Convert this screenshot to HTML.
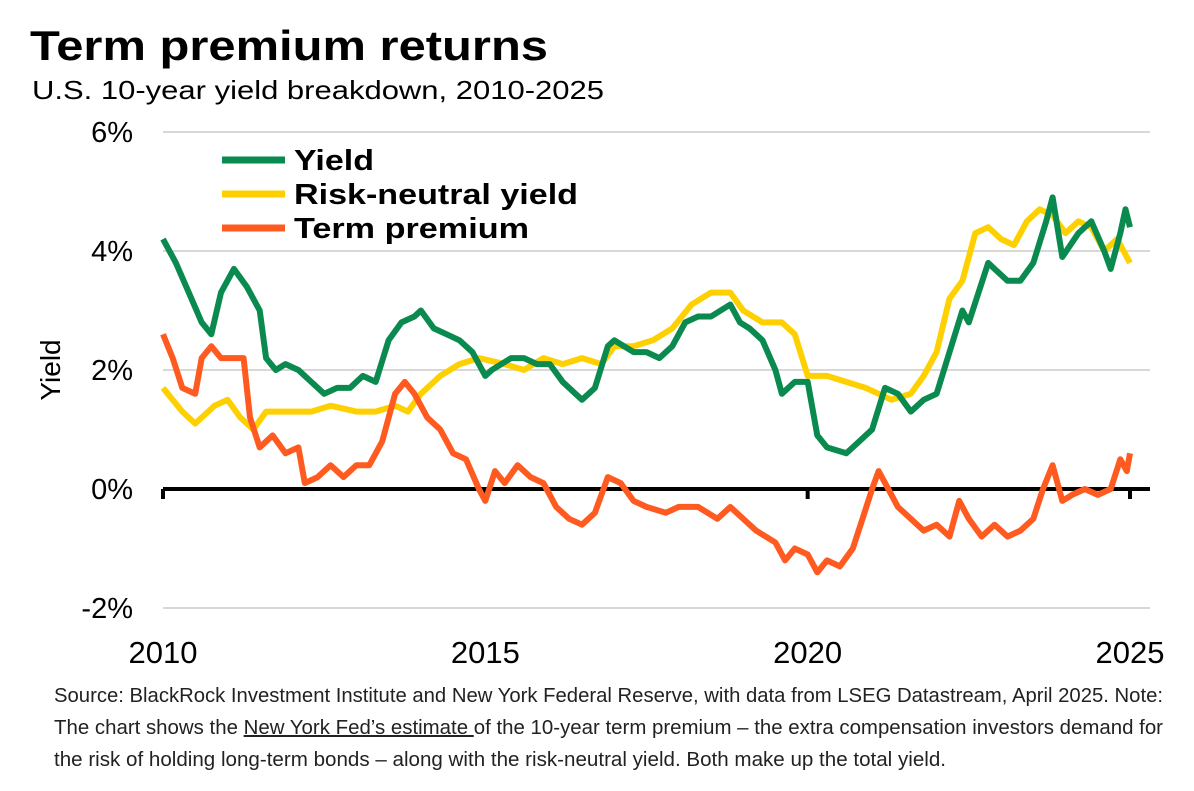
<!DOCTYPE html>
<html><head><meta charset="utf-8"><style>
body{margin:0;background:#fff;width:1194px;height:791px;overflow:hidden;font-family:"Liberation Sans",sans-serif;}
svg{position:absolute;left:0;top:0}
</style></head><body>
<svg width="1194" height="791">
<text x="30" y="60" font-size="42" font-weight="bold" fill="#000" textLength="518" lengthAdjust="spacingAndGlyphs">Term premium returns</text>
<text x="32" y="99" font-size="26" fill="#000" textLength="572" lengthAdjust="spacingAndGlyphs">U.S. 10-year yield breakdown, 2010-2025</text>
<g id="grid"></g>
<g id="ylabels"></g>
<g id="xlabels"></g>
<text transform="translate(60,370) rotate(-90)" text-anchor="middle" font-size="28" fill="#000">Yield</text>
<g id="series"></g>
<g font-size="29" font-weight="bold">
<line x1="222" y1="160" x2="285" y2="160" stroke="#0a8a4e" stroke-width="7"/>
<text x="294" y="170" textLength="80" lengthAdjust="spacingAndGlyphs">Yield</text>
<line x1="222" y1="194" x2="285" y2="194" stroke="#ffd000" stroke-width="7"/>
<text x="294" y="204" textLength="284" lengthAdjust="spacingAndGlyphs">Risk-neutral yield</text>
<line x1="222" y1="228" x2="285" y2="228" stroke="#ff5a1f" stroke-width="7"/>
<text x="294" y="238" textLength="235" lengthAdjust="spacingAndGlyphs">Term premium</text>
</g>
<g font-size="20" fill="#222">
<text x="54" y="702" textLength="1109" lengthAdjust="spacingAndGlyphs">Source: BlackRock Investment Institute and New York Federal Reserve, with data from LSEG Datastream, April 2025. Note:</text>
<text x="54" y="734" textLength="1109" lengthAdjust="spacingAndGlyphs">The chart shows the <tspan text-decoration="underline">New York Fed’s estimate </tspan>of the 10-year term premium – the extra compensation investors demand for</text>
<text x="54" y="766" textLength="892" lengthAdjust="spacingAndGlyphs">the risk of holding long-term bonds – along with the risk-neutral yield. Both make up the total yield.</text>
</g>
</svg>
<script>
const yieldX=[2010.0,2010.2,2010.4,2010.6,2010.75,2010.9,2011.1,2011.3,2011.5,2011.6,2011.75,2011.9,2012.1,2012.3,2012.5,2012.7,2012.9,2013.1,2013.3,2013.5,2013.7,2013.9,2014.0,2014.2,2014.4,2014.6,2014.8,2015.0,2015.1,2015.4,2015.6,2015.8,2016.0,2016.2,2016.5,2016.7,2016.9,2017.0,2017.3,2017.5,2017.7,2017.9,2018.1,2018.3,2018.5,2018.8,2018.95,2019.1,2019.3,2019.5,2019.6,2019.8,2020.0,2020.15,2020.3,2020.6,2020.8,2021.0,2021.2,2021.4,2021.6,2021.8,2022.0,2022.2,2022.4,2022.5,2022.8,2022.9,2023.1,2023.3,2023.5,2023.7,2023.8,2023.95,2024.2,2024.4,2024.6,2024.7,2024.85,2024.93,2025.0];
const yieldV=[4.2,3.8,3.3,2.8,2.6,3.3,3.7,3.4,3.0,2.2,2.0,2.1,2.0,1.8,1.6,1.7,1.7,1.9,1.8,2.5,2.8,2.9,3.0,2.7,2.6,2.5,2.3,1.9,2.0,2.2,2.2,2.1,2.1,1.8,1.5,1.7,2.4,2.5,2.3,2.3,2.2,2.4,2.8,2.9,2.9,3.1,2.8,2.7,2.5,2.0,1.6,1.8,1.8,0.9,0.7,0.6,0.8,1.0,1.7,1.6,1.3,1.5,1.6,2.3,3.0,2.8,3.8,3.7,3.5,3.5,3.8,4.5,4.9,3.9,4.3,4.5,4.0,3.7,4.3,4.7,4.4];
const rnX=[2010.0,2010.3,2010.5,2010.8,2011.0,2011.2,2011.4,2011.6,2012.0,2012.3,2012.6,2013.0,2013.3,2013.6,2013.8,2014.0,2014.3,2014.6,2014.9,2015.3,2015.6,2015.9,2016.2,2016.5,2016.8,2017.0,2017.3,2017.6,2017.9,2018.2,2018.5,2018.8,2019.0,2019.3,2019.6,2019.8,2020.0,2020.3,2020.6,2020.9,2021.1,2021.3,2021.6,2021.8,2022.0,2022.2,2022.4,2022.6,2022.8,2023.0,2023.2,2023.4,2023.6,2023.8,2024.0,2024.2,2024.4,2024.6,2024.8,2025.0];
const rnV=[1.7,1.3,1.1,1.4,1.5,1.2,1.0,1.3,1.3,1.3,1.4,1.3,1.3,1.4,1.3,1.6,1.9,2.1,2.2,2.1,2.0,2.2,2.1,2.2,2.1,2.4,2.4,2.5,2.7,3.1,3.3,3.3,3.0,2.8,2.8,2.6,1.9,1.9,1.8,1.7,1.6,1.5,1.6,1.9,2.3,3.2,3.5,4.3,4.4,4.2,4.1,4.5,4.7,4.6,4.3,4.5,4.4,4.0,4.2,3.8];
const tpX=[2010.0,2010.15,2010.3,2010.5,2010.6,2010.75,2010.9,2011.1,2011.25,2011.35,2011.5,2011.7,2011.9,2012.1,2012.2,2012.4,2012.6,2012.8,2013.0,2013.2,2013.4,2013.6,2013.75,2013.9,2014.1,2014.3,2014.5,2014.7,2014.9,2015.0,2015.15,2015.3,2015.5,2015.7,2015.9,2016.1,2016.3,2016.5,2016.7,2016.9,2017.1,2017.3,2017.5,2017.8,2018.0,2018.3,2018.6,2018.8,2019.0,2019.2,2019.5,2019.65,2019.8,2020.0,2020.15,2020.3,2020.5,2020.7,2020.85,2021.0,2021.1,2021.25,2021.4,2021.6,2021.8,2022.0,2022.2,2022.35,2022.5,2022.7,2022.9,2023.1,2023.3,2023.5,2023.65,2023.8,2023.95,2024.1,2024.3,2024.5,2024.7,2024.85,2024.95,2025.0];
const tpV=[2.6,2.2,1.7,1.6,2.2,2.4,2.2,2.2,2.2,1.2,0.7,0.9,0.6,0.7,0.1,0.2,0.4,0.2,0.4,0.4,0.8,1.6,1.8,1.6,1.2,1.0,0.6,0.5,0.0,-0.2,0.3,0.1,0.4,0.2,0.1,-0.3,-0.5,-0.6,-0.4,0.2,0.1,-0.2,-0.3,-0.4,-0.3,-0.3,-0.5,-0.3,-0.5,-0.7,-0.9,-1.2,-1.0,-1.1,-1.4,-1.2,-1.3,-1.0,-0.5,0.0,0.3,0.0,-0.3,-0.5,-0.7,-0.6,-0.8,-0.2,-0.5,-0.8,-0.6,-0.8,-0.7,-0.5,0.0,0.4,-0.2,-0.1,0.0,-0.1,0.0,0.5,0.3,0.6];
const yTicks=[6,4,2,0,-2];
const yTickLabels=["6%","4%","2%","0%","-2%"];
const xTicks=[2010,2015,2020,2025];
const NS="http://www.w3.org/2000/svg";
function xs(v){return 163+(v-2010)*(1130-163)/15;}
function ys(v){return 489-v*59.5;}
const grid=document.getElementById('grid'),yl=document.getElementById('ylabels'),xl=document.getElementById('xlabels'),ser=document.getElementById('series');
yTicks.forEach((t,i)=>{
  const l=document.createElementNS(NS,'line');
  l.setAttribute('x1',163);l.setAttribute('x2',1150);l.setAttribute('y1',ys(t));l.setAttribute('y2',ys(t));
  l.setAttribute('stroke',t===0?'#000':'#d8d8d8');l.setAttribute('stroke-width',t===0?4:2);
  
  
  grid.appendChild(l);
  const tx=document.createElementNS(NS,'text');
  tx.setAttribute('x',133);tx.setAttribute('y',ys(t)+10);tx.setAttribute('text-anchor','end');tx.setAttribute('font-size','29');
  tx.textContent=yTickLabels[i];
  
  
  yl.appendChild(tx);
});
xTicks.forEach(t=>{
  const l=document.createElementNS(NS,'line');
  l.setAttribute('x1',xs(t));l.setAttribute('x2',xs(t));l.setAttribute('y1',489);l.setAttribute('y2',499);
  l.setAttribute('stroke','#000');l.setAttribute('stroke-width',4);
  
  
  grid.appendChild(l);
  const tx=document.createElementNS(NS,'text');
  tx.setAttribute('x',xs(t));tx.setAttribute('y',663);tx.setAttribute('text-anchor','middle');tx.setAttribute('font-size','31');
  tx.textContent=String(t);
  
  
  xl.appendChild(tx);
});
function line(X,V,c,name){
  const p=document.createElementNS(NS,'polyline');
  p.setAttribute('points',X.map((x,i)=>xs(x).toFixed(1)+','+ys(V[i]).toFixed(1)).join(' '));
  p.setAttribute('fill','none');p.setAttribute('stroke',c);p.setAttribute('stroke-width',6);p.setAttribute('stroke-linejoin','round');
  
  
  ser.appendChild(p);
}
line(rnX,rnV,'#ffd000','risk-neutral-yield-line');
line(yieldX,yieldV,'#0a8a4e','yield-line');
line(tpX,tpV,'#ff5a1f','term-premium-line');
</script>
</body></html>
